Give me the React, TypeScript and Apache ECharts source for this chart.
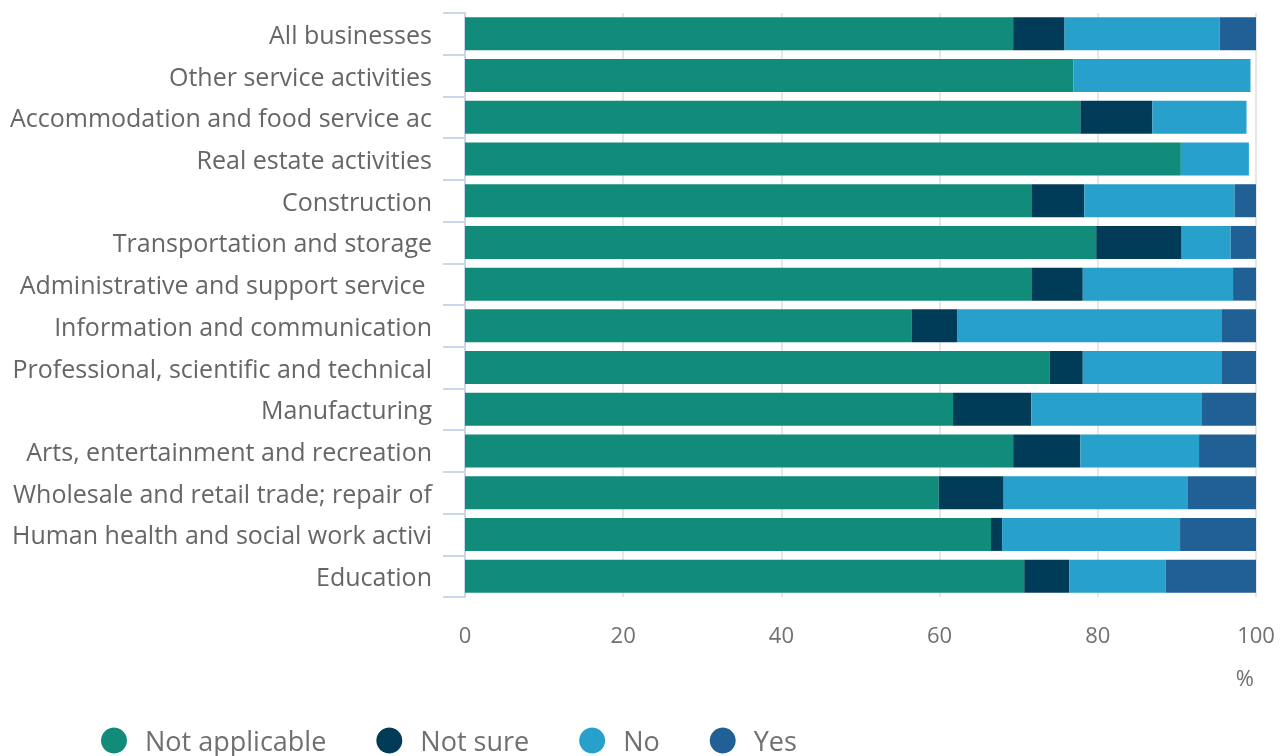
import React, { useEffect, useRef } from "react";
import * as echarts from "echarts";

const categories = [
  "All businesses",
  "Other service activities",
  "Accommodation and food service activities",
  "Real estate activities",
  "Construction",
  "Transportation and storage",
  "Administrative and support service activities",
  "Information and communication",
  "Professional, scientific and technical activities",
  "Manufacturing",
  "Arts, entertainment and recreation",
  "Wholesale and retail trade; repair of motor vehicles and motorcycles",
  "Human health and social work activities",
  "Education",
];

const notApplicable = [69.3, 76.9, 77.8, 90.5, 71.6, 79.8, 71.6, 56.5, 73.9, 61.7, 69.3, 59.9, 66.5, 70.7];
const notSure = [6.5, 0, 9.1, 0, 6.7, 10.8, 6.5, 5.7, 4.2, 9.9, 8.5, 8.2, 1.4, 5.7];
const no = [19.6, 22.4, 11.9, 8.6, 19.0, 6.2, 19.0, 33.5, 17.6, 21.5, 15.0, 23.3, 22.5, 12.2];
const yes = [4.6, 0, 0, 0, 2.7, 3.2, 2.9, 4.3, 4.3, 6.9, 7.2, 8.6, 9.6, 11.4];

const xTicks = [0, 20, 40, 60, 80, 100];

const seriesNames = ["Not applicable", "Not sure", "No", "Yes"];
const seriesColors = ["#118c7b", "#003c57", "#27a0cc", "#206095"];
const seriesData = [notApplicable, notSure, no, yes];

export default function App() {
  const ref = useRef<HTMLDivElement>(null);

  useEffect(() => {
    document.body.style.margin = "0";
    if (!ref.current) return;
    const chart = echarts.init(ref.current, null, { renderer: "svg" });
    const font = "'Open Sans', 'Noto Sans', sans-serif";
    chart.setOption({
      animation: false,
      textStyle: { fontFamily: font },
      grid: { left: 465, right: 29, top: 13, bottom: 159, containLabel: false },
      legend: {
        data: seriesNames,
        left: 96,
        top: 722,
        icon: "circle",
        itemWidth: 26,
        itemHeight: 26,
        itemGap: 50,
        textStyle: { fontSize: 27, color: "#707070", fontFamily: font, padding: [0, 0, 0, 13] },
      },
      xAxis: {
        type: "value",
        min: xTicks[0],
        max: xTicks[xTicks.length - 1],
        interval: 20,
        axisLine: { show: false },
        axisTick: { show: false },
        axisLabel: { fontSize: 22, color: "#707070", margin: 26, fontFamily: font },
        splitLine: { show: true, lineStyle: { color: "#e6e6e6", width: 2 } },
      },
      yAxis: {
        type: "category",
        data: categories,
        inverse: true,
        axisLine: { show: true, lineStyle: { color: "#ccd6eb", width: 2 } },
        axisTick: { show: true, length: 22, lineStyle: { color: "#ccd6eb", width: 2 } },
        axisLabel: {
          fontSize: 25,
          color: "#666666",
          margin: 33,
          width: 424,
          overflow: "truncate",
          ellipsis: "",
          fontFamily: font,
        },
      },
      graphic: [
        {
          type: "text",
          right: 31,
          top: 666,
          style: { text: "%", fontSize: 22, fill: "#707070", fontFamily: font },
        },
      ],
      series: seriesNames.map((name, i) => ({
        name,
        type: "bar",
        stack: "total",
        barWidth: 33,
        data: seriesData[i],
        itemStyle: { color: seriesColors[i] },
      })),
    });
    return () => chart.dispose();
  }, []);

  return (
    <div
      ref={ref}
      style={{ position: "fixed", left: 0, top: 0, width: 1285, height: 756 }}
    />
  );
}
